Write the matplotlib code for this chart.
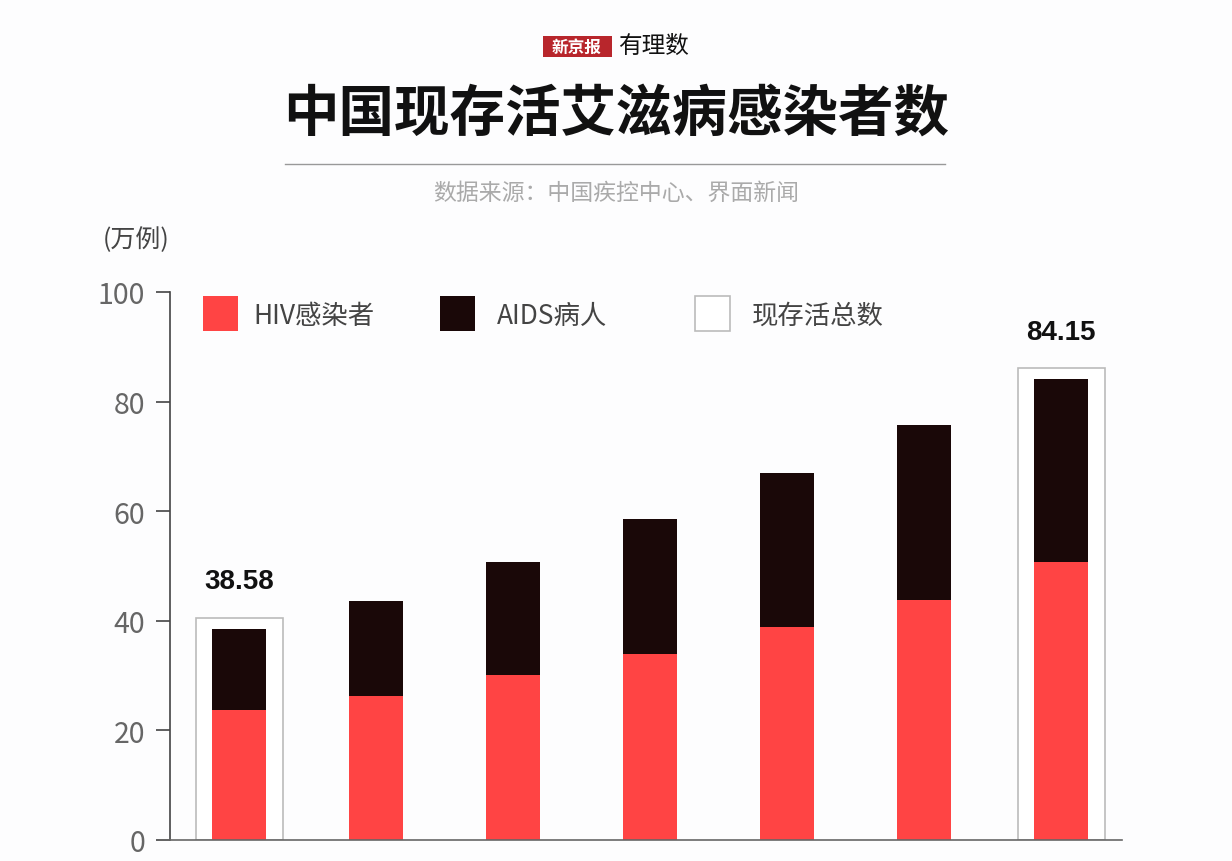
import matplotlib.pyplot as plt
from matplotlib.patches import Rectangle
import numpy as np

plt.rcParams['font.family'] = ['Noto Sans CJK SC', 'DejaVu Sans']

# values (万例)
hiv = [23.7, 26.3, 30.1, 33.9, 38.9, 43.8, 50.7]
total = [38.58, 43.6, 50.7, 58.6, 67.0, 75.7, 84.15]
aids = [t - h for t, h in zip(total, hiv)]
boxed = [0, 6]
yticks = [0, 20, 40, 60, 80, 100]

red = '#ff4444'
dark = '#1a0808'
grey = '#666666'

fig = plt.figure(figsize=(12.32, 8.62), dpi=100)
fig.patch.set_facecolor('#fdfdfe')
ax = fig.add_axes([0.138, 0.0244, 0.7727, 0.6357])
ax.set_facecolor('none')

x = np.arange(len(hiv))
# outline boxes for total
for i in boxed:
    ax.bar(x[i], total[i] + 2.0, width=0.635, color='white', edgecolor='#bbbbbb', linewidth=1.2, zorder=1)
    ax.text(x[i], total[i] + 2.0 + 6.6, f'{total[i]:.2f}', ha='center', va='center',
            fontsize=20, fontweight='bold', color='#111111', family='Liberation Sans')
ax.bar(x, hiv, width=0.40, color=red, zorder=2)
ax.bar(x, aids, bottom=hiv, width=0.40, color=dark, zorder=2)

ax.set_xlim(-0.504, 6.445)
ax.set_ylim(0, 100)
ax.set_yticks(yticks)
ax.set_xticks([])
ax.tick_params(axis='y', length=10, width=1.2, color='#444444', labelcolor=grey, labelsize=20.5, pad=8)
for lab in ax.get_yticklabels():
    lab.set_fontweight('light')
for s in ['top', 'right']:
    ax.spines[s].set_visible(False)
for s in ['left', 'bottom']:
    ax.spines[s].set_color('#444444')
    ax.spines[s].set_linewidth(1.2)
ax.spines['bottom'].set_bounds(-0.58, 6.445)
ax.spines['bottom'].set_color('#666666')

# unit label
fig.text(103 / 1232, 1 - 240 / 862, '(万例)', fontsize=18, color='#444444', ha='left', va='center',
         fontweight='light')

# legend drawn by hand at the top of the plot
leg = [(203, red, 'none', 'HIV感染者', 253),
       (440, dark, 'none', 'AIDS病人', 497),
       (695, 'white', '#bbbbbb', '现存活总数', 752)]
for x0, fc, ec, lab, tx in leg:
    fig.patches.append(Rectangle((x0 / 1232, 1 - 332 / 862), 35 / 1232, 35 / 862,
                                 transform=fig.transFigure, facecolor=fc, edgecolor=ec, linewidth=1.2))
    fig.text(tx / 1232, 1 - 316 / 862, lab, fontsize=19, color='#444444', ha='left', va='center',
             fontweight='light')

# title block
fig.text(0.5, 1 - 115 / 862, '中国现存活艾滋病感染者数', fontsize=40, fontweight='heavy',
         color='#111111', ha='center', va='center')
fig.lines.append(plt.Line2D([285 / 1232, 945 / 1232], [1 - 165 / 862] * 2,
                            transform=fig.transFigure, color='#999999', linewidth=1))
fig.text(0.5, 1 - 193 / 862, '数据来源：中国疾控中心、界面新闻', fontsize=16.5,
         color='#aaaaaa', ha='center', va='center', fontweight='light')

# logo
fig.patches.append(Rectangle((543 / 1232, 1 - 58 / 862), 69 / 1232, 21 / 862,
                             transform=fig.transFigure, facecolor='#b8262c', edgecolor='none'))
fig.text(577 / 1232, 1 - 47.5 / 862, '新京报', fontsize=12, fontweight='bold', color='white',
         ha='center', va='center')
fig.text(653 / 1232, 1 - 46 / 862, '有理数', fontsize=17, color='#111111', ha='center', va='center')

plt.savefig('out.png', dpi=100, facecolor=fig.get_facecolor())
